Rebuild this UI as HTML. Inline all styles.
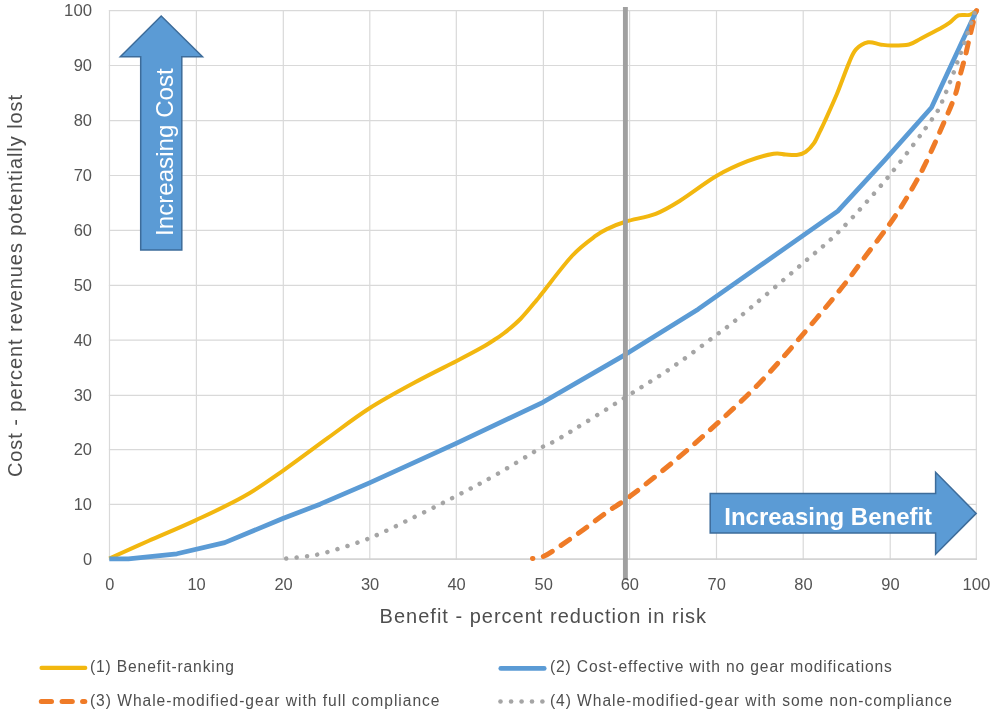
<!DOCTYPE html>
<html lang="en"><head><meta charset="utf-8"><title>Cost vs Benefit</title>
<style>
html,body{margin:0;padding:0;background:#fff;}
body{width:1000px;height:717px;overflow:hidden;}
svg{display:block;}
text{font-family:"Liberation Sans",sans-serif;fill:#595959;}
.tick{font-size:16px;fill:#545454;}
.leg{font-size:15.6px;fill:#4e4e4e;}
.axt{font-size:20px;fill:#4e4e4e;}
</style></head><body>
<svg width="1000" height="717" viewBox="0 0 1000 717">
<rect width="1000" height="717" fill="#ffffff"/>
<g stroke="#d9d9d9" stroke-width="1.2" fill="none">
<line x1="109.5" y1="10.1" x2="109.5" y2="559.8"/>
<line x1="196.4" y1="10.1" x2="196.4" y2="559.8"/>
<line x1="283.3" y1="10.1" x2="283.3" y2="559.8"/>
<line x1="369.8" y1="10.1" x2="369.8" y2="559.8"/>
<line x1="456.3" y1="10.1" x2="456.3" y2="559.8"/>
<line x1="543.4" y1="10.1" x2="543.4" y2="559.8"/>
<line x1="629.6" y1="10.1" x2="629.6" y2="559.8"/>
<line x1="716.5" y1="10.1" x2="716.5" y2="559.8"/>
<line x1="803.2" y1="10.1" x2="803.2" y2="559.8"/>
<line x1="890.2" y1="10.1" x2="890.2" y2="559.8"/>
<line x1="976.3" y1="10.1" x2="976.3" y2="559.8"/>
<line x1="108.9" y1="559.2" x2="976.9" y2="559.2"/>
<line x1="108.9" y1="504.3" x2="976.9" y2="504.3"/>
<line x1="108.9" y1="449.6" x2="976.9" y2="449.6"/>
<line x1="108.9" y1="395.3" x2="976.9" y2="395.3"/>
<line x1="108.9" y1="340.2" x2="976.9" y2="340.2"/>
<line x1="108.9" y1="285.3" x2="976.9" y2="285.3"/>
<line x1="108.9" y1="230.4" x2="976.9" y2="230.4"/>
<line x1="108.9" y1="175.5" x2="976.9" y2="175.5"/>
<line x1="108.9" y1="120.6" x2="976.9" y2="120.6"/>
<line x1="108.9" y1="65.5" x2="976.9" y2="65.5"/>
<line x1="108.9" y1="10.7" x2="976.9" y2="10.7"/>
</g>
<line x1="108.9" y1="559.2" x2="976.9" y2="559.2" stroke="#cfcfcf" stroke-width="1.2"/>
<path d="M109.3,558.5 C115.8,555.6 133.9,547.4 148.3,541.0 C162.8,534.6 180.1,527.5 196.0,520.1 C211.9,512.7 229.3,504.8 243.7,496.6 C258.2,488.4 268.7,480.6 282.8,470.8 C296.8,461.0 313.4,448.4 327.9,437.9 C342.3,427.5 355.0,417.6 369.5,408.3 C383.9,399.1 400.1,390.4 414.6,382.6 C429.0,374.7 445.2,366.9 456.2,361.2 C467.2,355.5 474.5,351.7 480.5,348.3 C486.5,345.0 488.3,343.7 492.2,341.2 C496.1,338.7 499.2,337.0 503.9,333.3 C508.6,329.6 515.1,324.4 520.4,319.0 C525.7,313.6 532.3,305.4 536.0,300.9 C539.8,296.5 536.9,299.8 542.9,292.2 C549.0,284.6 563.6,264.9 572.4,255.5 C581.3,246.0 589.9,240.2 595.9,235.7 C601.8,231.3 602.9,231.0 608.0,228.6 C613.1,226.2 618.3,223.9 626.2,221.5 C634.2,219.0 646.7,217.3 655.7,213.8 C664.7,210.3 669.9,207.0 680.0,200.7 C690.1,194.4 705.1,182.6 716.4,176.0 C727.7,169.4 738.1,164.9 747.6,161.2 C757.2,157.5 767.3,154.9 773.7,153.8 C780.0,152.7 781.7,154.4 785.8,154.5 C789.8,154.7 794.6,155.2 797.9,154.7 C801.3,154.3 803.1,153.8 805.7,151.9 C808.4,149.9 811.6,146.6 814.0,143.1 C816.4,139.6 818.2,134.7 820.1,131.1 C821.9,127.4 822.0,127.4 824.8,121.2 C827.6,115.0 832.9,103.6 837.0,93.8 C841.0,84.0 845.9,70.0 849.1,62.6 C852.3,55.2 852.9,52.8 856.0,49.4 C859.2,46.0 864.1,43.1 868.2,42.3 C872.2,41.5 876.4,43.9 880.3,44.5 C884.2,45.0 886.8,45.6 891.6,45.6 C896.4,45.6 904.0,45.7 909.0,44.5 C913.9,43.3 915.9,41.1 921.1,38.4 C926.3,35.8 935.4,31.2 940.2,28.6 C944.9,25.9 946.7,24.7 949.7,22.6 C952.7,20.4 955.1,16.7 958.4,15.4 C961.7,14.2 966.6,15.7 969.7,14.9 C972.7,14.1 975.4,11.2 976.6,10.5" fill="none" stroke="#f2b70f" stroke-width="4" stroke-linecap="butt" stroke-linejoin="round"/>
<path d="M109.3,558.9 L128.4,558.9 L176.9,553.8 L224.7,542.6 L282.8,518.5 L320.1,504.2 L369.5,482.9 L456.2,443.4 L542.9,402.3 L625.3,354.6 L698.2,309.2 L837.8,211.1 L884.7,160.1 L931.5,107.5 L976.6,10.5" fill="none" stroke="#5b9bd5" stroke-width="4.7" stroke-linecap="butt" stroke-linejoin="round"/>
<path d="M532.5,558.5 C534.4,558.1 539.2,558.4 543.8,556.3 C548.4,554.2 553.6,550.4 560.3,545.9 C566.9,541.4 575.8,535.2 583.7,529.5 C591.7,523.7 600.3,516.9 608.0,511.4 C615.7,505.9 618.8,504.8 629.7,496.6 C640.5,488.4 658.6,474.1 673.0,462.1 C687.5,450.0 702.1,437.3 716.4,424.2 C730.7,411.2 745.0,398.0 758.9,383.7 C772.8,369.3 785.9,354.1 799.7,338.2 C813.4,322.3 830.3,302.0 841.3,288.3 C852.3,274.6 857.5,266.8 865.6,256.0 C873.7,245.2 883.1,233.3 889.9,223.7 C896.7,214.1 900.7,207.9 906.3,198.5 C912.0,189.1 918.1,178.5 923.7,167.2 C929.3,156.0 935.0,142.9 940.2,131.1 C945.4,119.2 951.6,105.3 954.9,96.0 C958.2,86.7 958.4,81.8 960.1,75.2 C961.9,68.5 963.7,62.4 965.3,56.0 C966.9,49.6 968.1,43.5 969.7,36.8 C971.3,30.1 973.7,20.4 974.9,16.0 C976.0,11.6 976.3,11.4 976.6,10.5" fill="none" stroke="#ef7b27" stroke-width="5" stroke-linecap="round" stroke-dasharray="10.4 10.6" stroke-dashoffset="9.9"/>
<path d="M286.2,558.5 C289.6,558.1 299.4,557.4 306.2,556.3 C313.0,555.3 316.4,555.2 327.0,552.2 C337.5,549.2 355.0,544.0 369.5,538.2 C383.9,532.4 399.3,524.4 413.7,517.4 C428.2,510.4 442.5,503.2 456.2,496.0 C470.0,488.9 481.7,482.9 496.1,474.7 C510.6,466.4 532.3,452.8 542.9,446.7 C553.6,440.6 546.6,446.2 560.3,437.9 C574.0,429.7 606.6,409.3 625.3,397.4 C644.1,385.5 657.9,377.1 673.0,366.7 C688.2,356.3 705.3,343.2 716.4,334.9 C727.5,326.6 725.4,328.8 739.8,316.8 C754.3,304.9 786.2,277.7 803.1,263.1 C820.1,248.5 826.8,243.9 841.3,229.2 C855.8,214.4 874.4,193.7 889.9,174.9 C905.3,156.1 925.1,129.1 934.1,116.3 C943.1,103.4 940.8,103.9 943.6,97.6 C946.5,91.3 949.0,84.8 951.4,78.5 C953.9,72.1 956.7,64.0 958.4,59.3 C960.1,54.5 959.1,57.8 961.9,50.0 C964.6,42.1 972.4,18.7 974.9,12.1 C977.3,5.6 976.3,10.8 976.6,10.5" fill="none" stroke="#a5a5a5" stroke-width="4.5" stroke-linecap="round" stroke-dasharray="0.01 10.45"/>
<line x1="625.4" y1="6.9" x2="625.4" y2="580" stroke="#a0a0a0" stroke-width="4.9"/>
<g fill="#5b9bd5" stroke="#3d6c9a" stroke-width="1.5" stroke-linejoin="miter">
<polygon points="161.2,16 202.5,56.8 181.8,56.8 181.8,250 140.7,250 140.7,56.8 120.3,56.8"/>
<polygon points="710.2,493.4 935.6,493.4 935.6,472.3 976.2,513.4 935.6,554.3 935.6,533.1 710.2,533.1"/>
</g>
<text transform="translate(173.4,236) rotate(-90)" font-size="24" style="fill:#fff" textLength="167.8" lengthAdjust="spacingAndGlyphs">Increasing Cost</text>
<text x="724.3" y="525.4" font-size="24" font-weight="bold" style="fill:#fff" textLength="207.8" lengthAdjust="spacingAndGlyphs">Increasing Benefit</text>
<text class="tick" x="82.9" y="564.7" textLength="9.1" lengthAdjust="spacingAndGlyphs">0</text>
<text class="tick" x="73.7" y="509.8" textLength="18.3" lengthAdjust="spacingAndGlyphs">10</text>
<text class="tick" x="73.7" y="455.1" textLength="18.3" lengthAdjust="spacingAndGlyphs">20</text>
<text class="tick" x="73.7" y="400.8" textLength="18.3" lengthAdjust="spacingAndGlyphs">30</text>
<text class="tick" x="73.7" y="345.7" textLength="18.3" lengthAdjust="spacingAndGlyphs">40</text>
<text class="tick" x="73.7" y="290.8" textLength="18.3" lengthAdjust="spacingAndGlyphs">50</text>
<text class="tick" x="73.7" y="235.9" textLength="18.3" lengthAdjust="spacingAndGlyphs">60</text>
<text class="tick" x="73.7" y="181.0" textLength="18.3" lengthAdjust="spacingAndGlyphs">70</text>
<text class="tick" x="73.7" y="126.1" textLength="18.3" lengthAdjust="spacingAndGlyphs">80</text>
<text class="tick" x="73.7" y="71.0" textLength="18.3" lengthAdjust="spacingAndGlyphs">90</text>
<text class="tick" x="64.1" y="16.2" textLength="27.9" lengthAdjust="spacingAndGlyphs">100</text>
<text class="tick" x="105.2" y="590.1" textLength="9.1" lengthAdjust="spacingAndGlyphs">0</text>
<text class="tick" x="187.4" y="590.1" textLength="18.3" lengthAdjust="spacingAndGlyphs">10</text>
<text class="tick" x="274.4" y="590.1" textLength="18.3" lengthAdjust="spacingAndGlyphs">20</text>
<text class="tick" x="360.9" y="590.1" textLength="18.3" lengthAdjust="spacingAndGlyphs">30</text>
<text class="tick" x="447.4" y="590.1" textLength="18.3" lengthAdjust="spacingAndGlyphs">40</text>
<text class="tick" x="534.5" y="590.1" textLength="18.3" lengthAdjust="spacingAndGlyphs">50</text>
<text class="tick" x="620.7" y="590.1" textLength="18.3" lengthAdjust="spacingAndGlyphs">60</text>
<text class="tick" x="707.6" y="590.1" textLength="18.3" lengthAdjust="spacingAndGlyphs">70</text>
<text class="tick" x="794.3" y="590.1" textLength="18.3" lengthAdjust="spacingAndGlyphs">80</text>
<text class="tick" x="881.3" y="590.1" textLength="18.3" lengthAdjust="spacingAndGlyphs">90</text>
<text class="tick" x="962.5" y="590.1" textLength="27.9" lengthAdjust="spacingAndGlyphs">100</text>
<text class="axt" x="379.6" y="622.5" textLength="326.5" lengthAdjust="spacing">Benefit - percent reduction in risk</text>
<text class="axt" transform="translate(22,477.1) rotate(-90)" textLength="382.2" lengthAdjust="spacing">Cost - percent revenues potentially lost</text>
<line x1="41.5" y1="667.9" x2="85.3" y2="667.9" stroke="#f2b70f" stroke-width="4.1" stroke-linecap="round"/>
<line x1="500.8" y1="668.4" x2="544.2" y2="668.4" stroke="#5b9bd5" stroke-width="4.8" stroke-linecap="round"/>
<g stroke="#ef7b27" stroke-width="5" stroke-linecap="round"><line x1="41.3" y1="701.5" x2="51.5" y2="701.5"/><line x1="62.1" y1="701.5" x2="72.3" y2="701.5"/><line x1="82.6" y1="701.5" x2="84.8" y2="701.5"/></g>
<g fill="#a5a5a5"><circle cx="500.5" cy="701.5" r="2.3"/><circle cx="511.1" cy="701.5" r="2.3"/><circle cx="521.6" cy="701.5" r="2.3"/><circle cx="532.0" cy="701.5" r="2.3"/><circle cx="542.4" cy="701.5" r="2.3"/></g>
<text class="leg" x="89.9" y="672.3" textLength="144" lengthAdjust="spacing">(1) Benefit-ranking</text>
<text class="leg" x="89.9" y="705.7" textLength="349.6" lengthAdjust="spacing">(3) Whale-modified-gear with full compliance</text>
<text class="leg" x="549.9" y="672.3" textLength="342" lengthAdjust="spacing">(2) Cost-effective with no gear modifications</text>
<text class="leg" x="549.9" y="705.7" textLength="402" lengthAdjust="spacing">(4) Whale-modified-gear with some non-compliance</text>
</svg></body></html>
